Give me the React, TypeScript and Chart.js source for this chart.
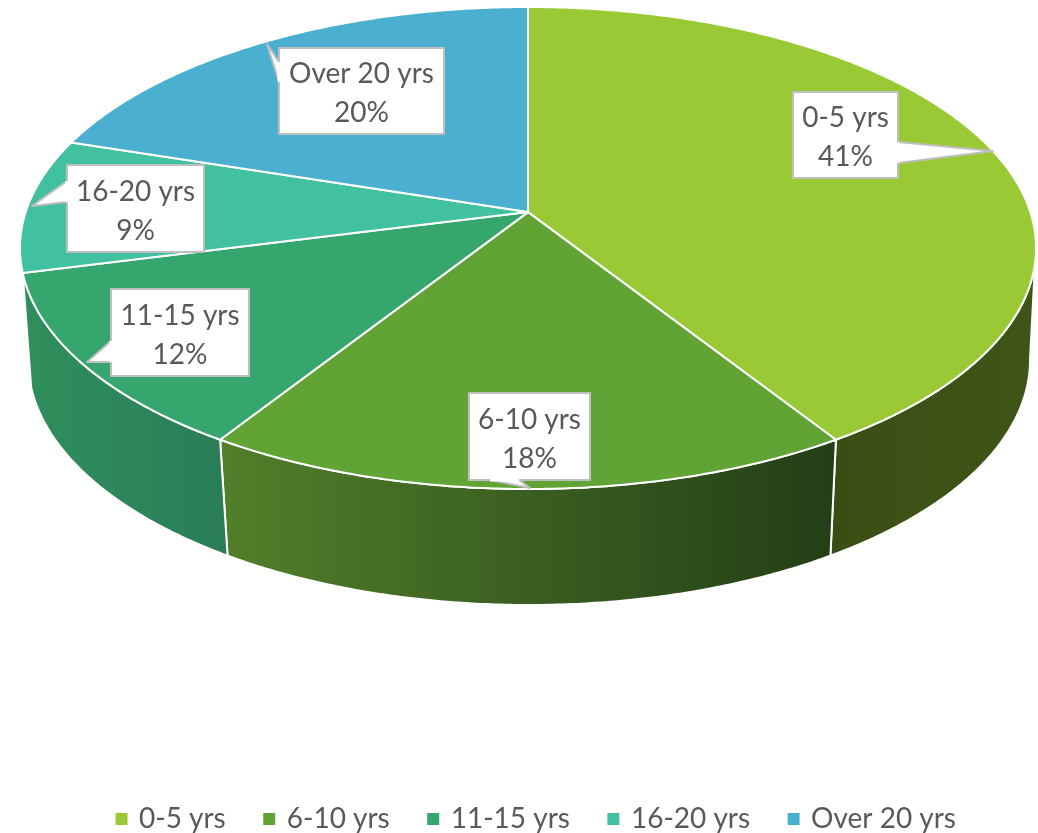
import React, { useEffect, useRef } from "react";
import { Chart, registerables } from "chart.js";

Chart.register(...registerables);

const categories = ["0-5 yrs", "6-10 yrs", "11-15 yrs", "16-20 yrs", "Over 20 yrs"];
const shares = [41, 18, 12, 9, 20];
const topColors = ["#99ca36", "#62a336", "#36a66f", "#42c1a0", "#4bb0cf"];

const FONT = "Lato, Carlito, 'Open Sans', sans-serif";
const TEXT = "#595959";
const BORDER = "#bfbfbf";

// Perspective ellipses of the top and bottom faces
const topFace = { cx: 528, cy: 248, rx: 508, ry: 241, a: 0.149 };
const bottomFace = { cx: 529, cy: 360, rx: 501, ry: 245, a: 0.14 };

// Side wall shading per slice: [x0, colour0, x1, colour1]
const sideShades: Record<number, [number, string, number, string]> = {
  0: [831, "#3a4e14", 1035, "#3e5516"],
  1: [220, "#527f2a", 830, "#233f17"],
  2: [22, "#2f8f5c", 227, "#2a7d57"],
};

// Callout layout: box [x0, y0, x1, y1] and pointer polygon [baseA, tip, baseB]
const callouts = [
  { box: [793, 92, 898, 178], ptr: [[898, 142], [993, 151], [898, 163]] },
  { box: [469, 393, 590, 480], ptr: [[490, 480], [530, 488], [519, 480]] },
  { box: [111, 289, 249, 376], ptr: [[111, 341], [87, 362], [111, 362]] },
  { box: [67, 165, 204, 252], ptr: [[67, 181], [32, 206], [67, 202]] },
  { box: [279, 48, 444, 134], ptr: [[279, 62], [267, 44], [279, 82]] },
];

type Face = typeof topFace;

// Maps a true pie angle (radians, clockwise from 12 o'clock) onto the face
function project(face: Face, theta: number): [number, number] {
  const x = Math.sin(theta);
  const y = Math.cos(theta);
  const d = 1 + face.a * y;
  const px = (x * Math.sqrt(1 - face.a * face.a)) / d;
  const py = (y + face.a) / d;
  return [face.cx + px * face.rx, face.cy - py * face.ry];
}

function sample(face: Face, t0: number, t1: number): [number, number][] {
  const n = Math.max(2, Math.ceil(Math.abs(t1 - t0) * 120));
  const out: [number, number][] = [];
  for (let i = 0; i <= n; i++) out.push(project(face, t0 + ((t1 - t0) * i) / n));
  return out;
}

const pie3d = {
  id: "pie3d",
  afterLayout(chart: any) {
    // move the legend row to its place in the reference
    chart.legend.top += 10;
    chart.legend.bottom += 10;
    chart.legend.left += 18;
    chart.legend.right += 18;
  },
  beforeDatasetsDraw(chart: any) {
    const ctx: CanvasRenderingContext2D = chart.ctx;
    const arcs = chart.getDatasetMeta(0).data;
    const ranges = arcs.map((a: any) => [a.startAngle + Math.PI / 2, a.endAngle + Math.PI / 2]);
    const frontStart = (98 * Math.PI) / 180;
    const frontEnd = (260.5 * Math.PI) / 180;
    ctx.save();
    ctx.lineJoin = "round";

    // side walls
    ranges.forEach(([s, e]: number[], i: number) => {
      const t0 = Math.max(s, frontStart);
      const t1 = Math.min(e, frontEnd);
      if (t1 - t0 < 0.17) return;
      const pts = [...sample(topFace, t0, t1), ...sample(bottomFace, t1, t0)];
      ctx.beginPath();
      pts.forEach((p, k) => (k ? ctx.lineTo(p[0], p[1]) : ctx.moveTo(p[0], p[1])));
      ctx.closePath();
      const sh = sideShades[i];
      const g = ctx.createLinearGradient(sh[0], 0, sh[2], 0);
      g.addColorStop(0, sh[1]);
      g.addColorStop(1, sh[3]);
      ctx.fillStyle = g;
      ctx.fill();
      ctx.lineWidth = 2;
      ctx.strokeStyle = "#ffffff";
      ctx.stroke();
    });

    // top face
    const apex = [topFace.cx, topFace.cy - topFace.a * topFace.ry];
    ranges.forEach(([s, e]: number[], i: number) => {
      const pts = sample(topFace, s, e);
      ctx.beginPath();
      ctx.moveTo(apex[0], apex[1]);
      pts.forEach((p) => ctx.lineTo(p[0], p[1]));
      ctx.closePath();
      ctx.fillStyle = topColors[i];
      ctx.fill();
      ctx.lineWidth = 2;
      ctx.strokeStyle = "#ffffff";
      ctx.stroke();
    });

    // callouts
    ctx.font = `28px ${FONT}`;
    ctx.textAlign = "center";
    ctx.textBaseline = "middle";
    callouts.forEach((c, i) => {
      const [x0, y0, x1, y1] = c.box;
      const [a, tip, b] = c.ptr;
      ctx.beginPath();
      ctx.rect(x0, y0, x1 - x0, y1 - y0);
      ctx.moveTo(a[0], a[1]);
      ctx.lineTo(tip[0], tip[1]);
      ctx.lineTo(b[0], b[1]);
      ctx.closePath();
      ctx.fillStyle = "#ffffff";
      ctx.fill("nonzero");
      ctx.strokeStyle = BORDER;
      ctx.lineWidth = 2;
      ctx.stroke();
      // open the seam between the box and its pointer
      ctx.beginPath();
      ctx.moveTo(a[0], a[1]);
      ctx.lineTo(b[0], b[1]);
      ctx.strokeStyle = "#ffffff";
      ctx.lineWidth = 3;
      ctx.stroke();
      ctx.fillStyle = TEXT;
      const mx = (x0 + x1) / 2;
      const my = (y0 + y1) / 2;
      ctx.fillText(categories[i], mx, my - 17);
      ctx.fillText(`${shares[i]}%`, mx, my + 22);
    });
    ctx.restore();
    return false;
  },
};

export default function App() {
  const ref = useRef<HTMLCanvasElement>(null);
  useEffect(() => {
    document.body.style.margin = "0";
    const chart = new Chart(ref.current!, {
      type: "pie",
      data: {
        labels: categories,
        datasets: [{ data: shares, backgroundColor: topColors, borderWidth: 0 }],
      },
      options: {
        responsive: false,
        animation: false,
        plugins: {
          tooltip: { enabled: false },
          legend: {
            position: "bottom",
            labels: {
              usePointStyle: true,
              pointStyle: "rect",
              boxHeight: 12,
              boxWidth: 7,
              padding: 40,
              color: TEXT,
              font: { family: FONT, size: 28 },
            },
          },
        },
      },
      plugins: [pie3d],
    });
    return () => chart.destroy();
  }, []);
  return <canvas ref={ref} width={1038} height={833} style={{ display: "block" }} />;
}
